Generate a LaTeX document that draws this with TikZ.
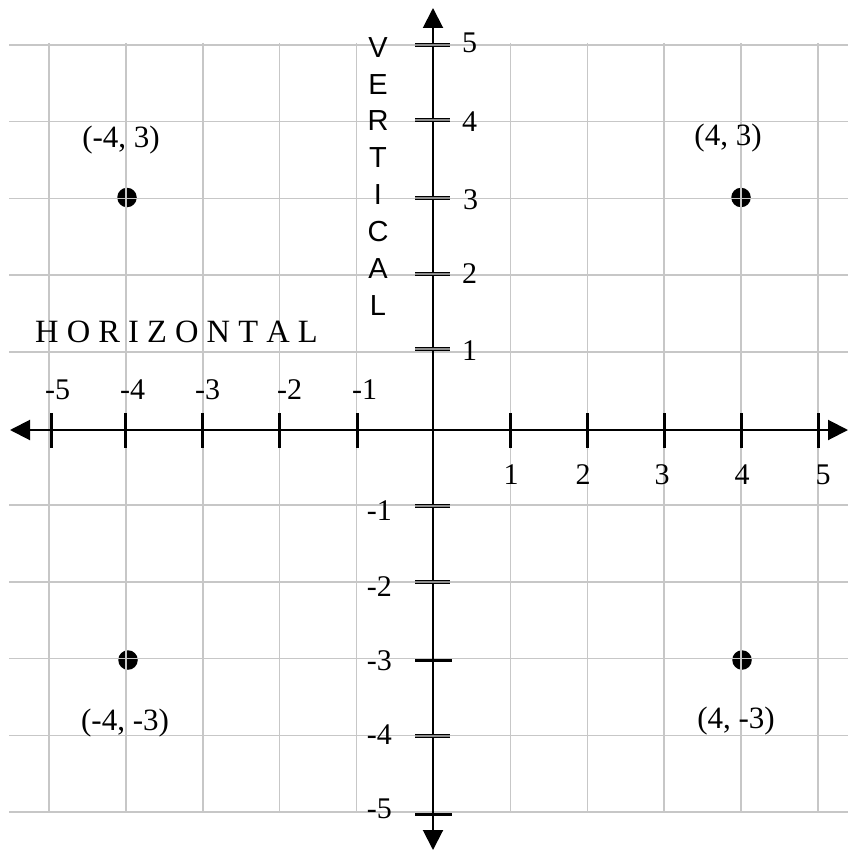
\documentclass[tikz,border=0pt]{standalone}
\usepackage{fontspec}
\setmainfont{Liberation Serif}
\newfontfamily\arialfont{Liberation Sans}
\usetikzlibrary{arrows.meta}
\begin{document}
\begin{tikzpicture}[x=1pt,y=-1pt,
  gridline/.style={draw=black!22, line width=1.5pt},
  axisline/.style={draw=black, line width=2pt},
  xtick/.style={draw=black, line width=3pt},
  ytickd/.style={draw=black, line width=0.9pt, double=black!45, double distance=1.3pt},
  ytick/.style={draw=black, line width=3pt},
  numlbl/.style={inner sep=0pt, font=\fontsize{30}{34}\selectfont},
  ptlbl/.style={inner sep=0pt, anchor=base, font=\fontsize{31}{36}\selectfont},
  dot/.style={circle, fill=black, minimum size=19.5pt, inner sep=0pt},
  axtip/.tip={Triangle[length=20pt,width=20pt]}
]
\useasboundingbox (0,0) rectangle (848,853);
\fill[white] (0,0) rectangle (848,853);
% points
\node[dot] (p1) at (127,197.5) {};
\node[dot] (p2) at (741,197.5) {};
\node[dot] (p3) at (128,660) {};
\node[dot] (p4) at (742,660) {};
% grid
\foreach \x in {49,125.9,202.8,279.7,356.6,510.4,587.3,664.2,741.1,818}
  \draw[gridline] (\x,43) -- (\x,813);
\foreach \y in {45,121.7,198.4,275.1,351.8,505.2,581.9,658.6,735.3,812}
  \draw[gridline] (9,\y) -- (848,\y);
% axes
\coordinate (xl) at (10,430);
\coordinate (xr) at (848,430);
\coordinate (yt) at (433,8);
\coordinate (yb) at (433,850);
\draw[axisline, axtip-axtip] (xl) -- (xr);
\draw[axisline, axtip-axtip] (yt) -- (yb);
% x ticks
\foreach \x in {51,125.9,202.8,279.7,357,510.4,587.3,664.2,741.1,818}
  \draw[xtick] (\x,413) -- (\x,448);
% y ticks
\foreach \y in {45,120,198,274,349,506,582,736}
  \draw[ytickd] (415,\y) -- (450,\y);
\foreach \y in {660,814}
  \draw[ytick] (415,\y) -- (452,\y);
% y labels
\node[numlbl, anchor=west] (ly5) at (462,43) {5};
\node[numlbl, anchor=west] (ly4) at (462,122) {4};
\node[numlbl, anchor=west] (ly3) at (463,200) {3};
\node[numlbl, anchor=west] (ly2) at (462,274) {2};
\node[numlbl, anchor=west] (ly1) at (462,351) {1};
\node[numlbl, anchor=east] (lym1) at (392,511) {-1};
\node[numlbl, anchor=east] (lym2) at (392,587) {-2};
\node[numlbl, anchor=east] (lym3) at (392,661) {-3};
\node[numlbl, anchor=east] (lym4) at (392,735) {-4};
\node[numlbl, anchor=east] (lym5) at (392,809) {-5};
% x labels
\node[numlbl, anchor=west] (lxm5) at (45,390) {-5};
\node[numlbl, anchor=west] (lxm4) at (120,390) {-4};
\node[numlbl, anchor=west] (lxm3) at (195,390) {-3};
\node[numlbl, anchor=west] (lxm2) at (277,390) {-2};
\node[numlbl, anchor=west] (lxm1) at (352,390) {-1};
\node[numlbl] (lx1) at (511,475) {1};
\node[numlbl] (lx2) at (583,475) {2};
\node[numlbl] (lx3) at (662,475) {3};
\node[numlbl] (lx4) at (742,475) {4};
\node[numlbl] (lx5) at (823,475) {5};
% point labels
\node[ptlbl] (t1) at (121,148) {(-4, 3)};
\node[ptlbl] (t2) at (728,146) {(4, 3)};
\node[ptlbl] (t3) at (125,730) {(-4, -3)};
\node[ptlbl] (t4) at (736,728) {(4, -3)};
% axis titles
\node[anchor=base west, inner sep=0pt, font=\fontsize{32.5}{37}\selectfont] (htitle) at (35,342) {H O R I Z O N T A L};
\node[anchor=north, inner sep=0pt, align=center, font=\arialfont\fontsize{29}{36.9}\selectfont] (vtitle) at (378,37) {V\\E\\R\\T\\I\\C\\A\\L};
\end{tikzpicture}
\end{document}
